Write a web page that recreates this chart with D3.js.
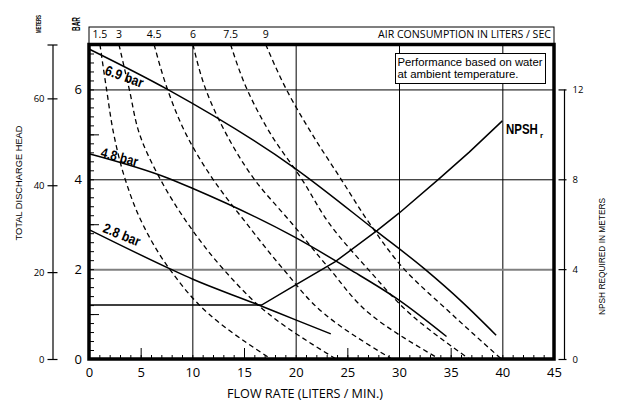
<!DOCTYPE html>
<html>
<head>
<meta charset="utf-8">
<script src="https://cdn.jsdelivr.net/npm/d3@7"></script>
<style>
  body { margin: 0; background: #fff; }
  svg { display: block; }
</style>
</head>
<body>
<svg id="chart" width="618" height="406"></svg>
<script>
// ---- data ----
const flowTicks = [0, 5, 10, 15, 20, 25, 30, 35, 40, 45];
const barTicks = [0, 2, 4, 6];
const meterTicks = [0, 20, 40, 60];
const npshTicks = [0, 4, 8, 12];
const gridFlow = [10, 20, 30, 40];
const gridBar = [2, 4, 6];

// air consumption curves: flow (l/min) where each curve crosses these pressure levels (bar)
const airLabels = ["1.5", "3", "4.5", "6", "7.5", "9"];
const airLevels = [7, 6, 5, 4, 3, 2, 1, 0];
const air15 = [1.06, 1.7, 2.4, 3.5, 5.2, 7.8, 11.6, 17.6];
const air30 = [2.9, 3.9, 4.9, 6.9, 9.6, 13.0, 17.4, 23.9];
const air45 = [6.3, 7.6, 9.4, 12.0, 15.3, 18.8, 22.8, 29.3];
const air60 = [10.06, 11.3, 13.3, 16.0, 19.7, 23.3, 27.2, 33.9];
const air75 = [13.7, 15.3, 17.6, 20.6, 23.3, 27.0, 31.1, 36.8];
const air90 = [17.1, 19.1, 21.6, 24.4, 27.2, 30.5, 35.1, 39.9];

// discharge head curves [flow, bar]
const head69 = [[0, 6.9], [7.6, 6.0], [19.9, 4.25], [27.9, 2.83], [32.5, 2.0], [36.2, 1.25], [39.4, 0.53]];
const head48 = [[0, 4.57], [7.6, 4.03], [10, 3.8], [20, 2.7], [25.2, 2.0], [30, 1.31], [34.6, 0.5]];
const head28 = [[0, 2.88], [7.9, 2.0], [10, 1.78], [16, 1.24], [20, 0.87], [23.4, 0.56]];
const pressureLabels = ["6.9 bar", "4.8 bar", "2.8 bar"];

// NPSH required [flow, meters]
const npsh = [[0, 2.4], [16.7, 2.4], [20, 3.3], [23.8, 4.32], [27.9, 5.73], [30, 6.49], [33.9, 8.03], [36.8, 9.21], [40, 10.6]];

const sans = "'Liberation Sans', Arial, sans-serif";
const myriad = "'Open Sans', 'Noto Sans', sans-serif";
const narrow = "'Liberation Sans Narrow', 'Liberation Sans', Arial, sans-serif";

function drawPumpCurve(svg) {
  const x = d3.scaleLinear().domain([0, 45]).range([89, 554]);
  const y = d3.scaleLinear().domain([0, 7]).range([359, 44.5]);
  const yMeters = d3.scaleLinear().domain([0, 72.4]).range([359, 44.5]);
  const yNpsh = d3.scaleLinear().domain([0, 14]).range([359, 44.5]);
  const plotH = y(0) - y(7);
  const plotW = x(45) - x(0);

  // grid
  svg.append("g")
    .attr("transform", `translate(0,${y(0)})`)
    .call(d3.axisBottom(x).tickValues(gridFlow).tickSize(-plotH).tickFormat(""))
    .call((g) => g.select(".domain").remove())
    .selectAll("line").attr("stroke", "#000").attr("stroke-width", 1);

  svg.append("g")
    .attr("transform", `translate(${x(0)},0)`)
    .call(d3.axisLeft(y).tickValues(gridBar).tickSize(-plotW).tickFormat(""))
    .call((g) => g.select(".domain").remove())
    .selectAll("line")
    .attr("stroke", (d) => (d === 2 ? "#808080" : "#000"))
    .attr("stroke-width", (d) => (d === 2 ? 2 : 1));

  // inner minor ticks
  const tickAxis = (axis, tr) =>
    svg.append("g").attr("transform", tr)
      .call(axis.tickFormat(""))
      .call((g) => g.select(".domain").remove())
      .selectAll("line").attr("stroke", "#000").attr("stroke-width", 1);

  tickAxis(d3.axisBottom(x).tickValues(d3.range(0, 46)).tickSize(-4), `translate(0,${y(0)})`);
  tickAxis(d3.axisBottom(x).tickValues([5, 15, 25, 35]).tickSize(-11), `translate(0,${y(0)})`);
  tickAxis(d3.axisLeft(y).tickValues(d3.range(0, 35).map((i) => i / 5)).tickSize(-5), `translate(${x(0)},0)`);
  tickAxis(d3.axisLeft(y).tickValues([1, 3, 5]).tickSize(-10), `translate(${x(0)},0)`);

  // air consumption curves (dashed)
  const airLine = d3.line()
    .x((d) => x(d[0]))
    .y((d) => y(d[1]))
    .curve(d3.curveMonotoneY);
  const airCurves = [air15, air30, air45, air60, air75, air90];

  svg.append("g")
    .selectAll("path")
    .data(airCurves)
    .join("path")
    .attr("d", (d) => airLine(d.map((f, i) => [f, airLevels[i]])))
    .attr("fill", "none")
    .attr("stroke", "#000")
    .attr("stroke-width", 1.3)
    .attr("stroke-dasharray", "5,3.5");

  // head curves
  const headLine = d3.line()
    .x((d) => x(d[0]))
    .y((d) => y(d[1]))
    .curve(d3.curveMonotoneX);

  svg.append("g")
    .selectAll("path")
    .data([head69, head48, head28])
    .join("path")
    .attr("d", headLine)
    .attr("fill", "none")
    .attr("stroke", "#000")
    .attr("stroke-width", 1.5);

  // NPSH curve
  const npshLine = d3.line()
    .x((d) => x(d[0]))
    .y((d) => yNpsh(d[1]));

  svg.append("path")
    .attr("d", npshLine(npsh))
    .attr("fill", "none")
    .attr("stroke", "#000")
    .attr("stroke-width", 1.5);

  // plot frame
  svg.append("rect")
    .attr("x", x(0))
    .attr("y", y(7))
    .attr("width", plotW)
    .attr("height", plotH)
    .attr("fill", "none")
    .attr("stroke", "#000")
    .attr("stroke-width", 3.5);

  // air consumption header box
  svg.append("rect")
    .attr("x", x(0))
    .attr("y", 27)
    .attr("width", plotW)
    .attr("height", y(7) - 27)
    .attr("fill", "none")
    .attr("stroke", "#000")
    .attr("stroke-width", 1);

  svg.append("g")
    .selectAll("text")
    .data(airCurves)
    .join("text")
    .attr("x", (d) => x(d[0]))
    .attr("y", 38)
    .attr("text-anchor", "middle")
    .attr("font-family", myriad)
    .attr("font-size", "10.5px")
    .text((d, i) => airLabels[i]);

  svg.append("text")
    .attr("x", 551)
    .attr("y", 38)
    .attr("text-anchor", "end")
    .attr("font-family", myriad)
    .attr("font-size", "10.5px")
    .attr("textLength", 173)
    .attr("lengthAdjust", "spacingAndGlyphs")
    .text("AIR CONSUMPTION IN LITERS / SEC");

  // note box
  svg.append("rect")
    .attr("x", 395.5)
    .attr("y", 53.5)
    .attr("width", 150)
    .attr("height", 30)
    .attr("fill", "#fff")
    .attr("stroke", "#000")
    .attr("stroke-width", 1);
  svg.append("text")
    .attr("x", 397.5).attr("y", 65.5)
    .attr("font-family", sans).attr("font-size", "10px")
    .attr("textLength", 145).attr("lengthAdjust", "spacingAndGlyphs")
    .text("Performance based on water");
  svg.append("text")
    .attr("x", 397.5).attr("y", 78)
    .attr("font-family", sans).attr("font-size", "10px")
    .attr("textLength", 121).attr("lengthAdjust", "spacingAndGlyphs")
    .text("at ambient temperature.");

  // curve labels
  const labelSpots = [[1.45, 6.34, 20, 40], [1.06, 4.5, 15, 38], [1.26, 2.83, 22, 39]];
  svg.append("g")
    .selectAll("text")
    .data(pressureLabels)
    .join("text")
    .attr("transform", (d, i) =>
      `translate(${x(labelSpots[i][0])},${y(labelSpots[i][1])}) rotate(${labelSpots[i][2]})`)
    .attr("font-family", narrow)
    .attr("font-weight", "bold")
    .attr("font-size", "14px")
    .attr("textLength", (d, i) => labelSpots[i][3])
    .attr("lengthAdjust", "spacingAndGlyphs")
    .text((d) => d);

  // NPSH label, condensed by a horizontal scale
  svg.append("text")
    .attr("transform", "translate(506,134) scale(0.74,1)")
    .attr("font-family", narrow)
    .attr("font-weight", "bold")
    .attr("font-size", "15.5px")
    .text("NPSH");
  svg.append("text")
    .attr("x", 540)
    .attr("y", 138)
    .attr("font-family", narrow)
    .attr("font-weight", "bold")
    .attr("font-size", "8px")
    .text("r");

  // x axis labels
  svg.append("g")
    .attr("transform", `translate(0,${y(0)})`)
    .call(d3.axisBottom(x).tickValues(flowTicks).tickSize(0).tickPadding(9))
    .call((g) => g.select(".domain").remove())
    .selectAll("text")
    .attr("font-family", myriad)
    .attr("font-size", "13px")
    .attr("fill", "#000");

  svg.append("text")
    .attr("x", 305)
    .attr("y", 398)
    .attr("text-anchor", "middle")
    .attr("font-family", myriad)
    .attr("font-size", "13.5px")
    .attr("textLength", 156)
    .attr("lengthAdjust", "spacingAndGlyphs")
    .text("FLOW RATE (LITERS / MIN.)");

  // bar axis labels
  svg.append("g")
    .attr("transform", `translate(${x(0)},0)`)
    .call(d3.axisLeft(y).tickValues(barTicks).tickFormat(d3.format("d")).tickSize(0).tickPadding(7))
    .call((g) => g.select(".domain").remove())
    .selectAll("text")
    .attr("font-family", myriad)
    .attr("font-size", "13px")
    .attr("fill", "#000");

  svg.append("text")
    .attr("transform", "translate(80,24) rotate(-90)")
    .attr("text-anchor", "middle")
    .attr("font-family", narrow)
    .attr("font-weight", "bold")
    .attr("font-size", "10px")
    .attr("textLength", 14)
    .attr("lengthAdjust", "spacingAndGlyphs")
    .text("BAR");

  // meters axis
  const mAxis = svg.append("g")
    .attr("transform", "translate(52.5,0)")
    .call(d3.axisLeft(yMeters)
      .tickValues(meterTicks.concat([72.4]))
      .tickSizeInner(5).tickSizeOuter(0).tickPadding(3)
      .tickFormat((d) => (d > 70 ? "" : d)));
  mAxis.selectAll(".tick line").attr("x1", 5);
  mAxis.selectAll("line, path").attr("stroke", "#000").attr("stroke-width", 1.2);
  mAxis.selectAll("text")
    .attr("font-family", myriad)
    .attr("font-size", "9.5px")
    .attr("fill", "#000");

  svg.append("text")
    .attr("transform", "translate(41,24) rotate(-90)")
    .attr("text-anchor", "middle")
    .attr("font-family", narrow)
    .attr("font-weight", "bold")
    .attr("font-size", "7px")
    .attr("textLength", 18)
    .attr("lengthAdjust", "spacingAndGlyphs")
    .text("METERS");

  svg.append("text")
    .attr("transform", "translate(22,183) rotate(-90)")
    .attr("text-anchor", "middle")
    .attr("font-family", sans)
    .attr("font-size", "9.3px")
    .attr("textLength", 115)
    .attr("lengthAdjust", "spacingAndGlyphs")
    .text("TOTAL DISCHARGE HEAD");

  // NPSH axis
  const nAxis = svg.append("g")
    .attr("transform", "translate(564.5,0)")
    .call(d3.axisRight(yNpsh)
      .tickValues(npshTicks)
      .tickSizeInner(-6).tickSizeOuter(0).tickPadding(8));
  nAxis.selectAll(".tick line").attr("x1", 2);
  nAxis.select(".domain").attr("d", `M0,${yNpsh(0)}V${yNpsh(12)}`);
  nAxis.selectAll("line, path").attr("stroke", "#000").attr("stroke-width", 1.2);
  nAxis.selectAll("text")
    .attr("font-family", myriad)
    .attr("font-size", "9.5px")
    .attr("fill", "#000");

  svg.append("text")
    .attr("transform", "translate(605,256.5) rotate(-90)")
    .attr("text-anchor", "middle")
    .attr("font-family", sans)
    .attr("font-size", "8.6px")
    .attr("textLength", 117)
    .attr("lengthAdjust", "spacingAndGlyphs")
    .text("NPSH REQUIRED IN METERS");
}

drawPumpCurve(d3.select("#chart"));
</script>
</body>
</html>
